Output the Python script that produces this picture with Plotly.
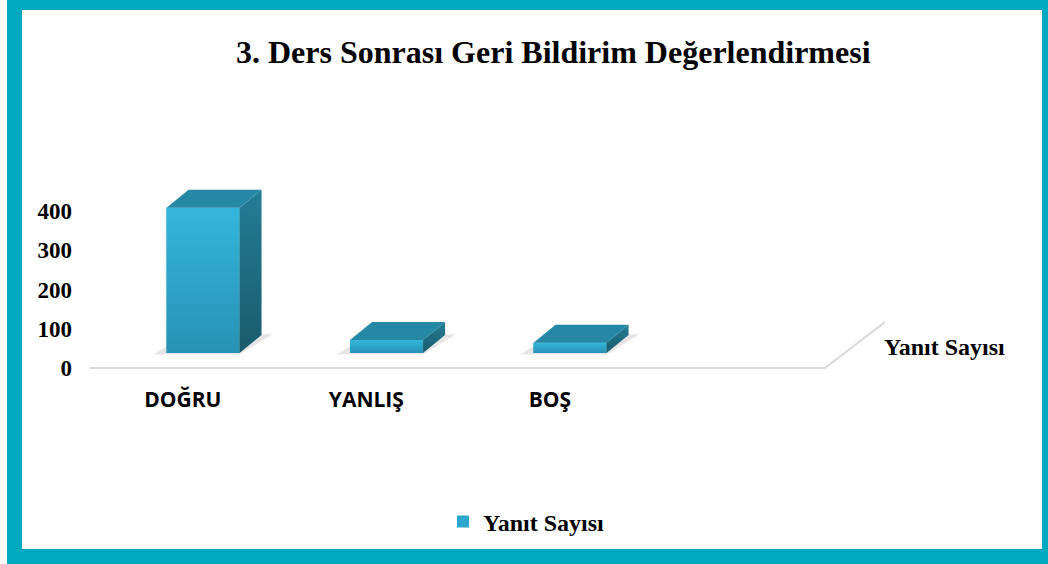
import plotly.graph_objects as go

# ---- data ----
categories = ["DOĞRU", "YANLIŞ", "BOŞ"]
values = [370, 33, 26]
series_name = "Yanıt Sayısı"
y_tickvals = [0, 100, 200, 300, 400]
title_text = "3. Ders Sonrası Geri Bildirim Değerlendirmesi"

# ---- geometry / style constants ----
W, H = 1048, 564
ML, MR, MT, MB = 90, 163, 150, 192
PW, PH = W - ML - MR, H - MT - MB
X0 = -0.616                  # x-axis range start (category units)
PX_PER_X = 183.5
PX_PER_Y = 0.3925
Y0 = -(H - MB - 368) / PX_PER_Y   # so that y=0 sits at pixel 368
XR = [X0, X0 + PW / PX_PER_X]
YR = [Y0, Y0 + PH / PX_PER_Y]

FLOOR = 15 / PX_PER_Y        # bars stand on the floor, mid-depth
DX = 22 / PX_PER_X           # 3-D depth offset
DY = 18 / PX_PER_Y
BAR_W = 73 / PX_PER_X
FLOOR_END = X0 + (825 - ML) / PX_PER_X
FLOOR_DX = 60 / PX_PER_X
FLOOR_DY = 46 / PX_PER_Y

TEAL = "#00A8C0"
SERIF = "Liberation Serif, Times New Roman, serif"
SANS = "Open Sans, Liberation Sans, sans-serif"


def px_x(p):
    return (p - ML) / PW


def px_y(p):
    return (H - MB - p) / PH


xs = list(range(len(categories)))
fig = go.Figure()

# soft floor shadows
for i, v in enumerate(values):
    hw = BAR_W / 2
    sx = [i - hw - 0.07, i + hw, i + hw + DX + 0.06, i - hw + DX - 0.02, i - hw - 0.07]
    sy = [FLOOR - 4, FLOOR - 4, FLOOR + DY + 2, FLOOR + DY + 2, FLOOR - 4]
    fig.add_trace(go.Scatter(x=sx, y=sy, fill="toself", mode="lines",
                             line=dict(width=0), fillcolor="rgba(0,0,0,0.10)",
                             showlegend=False, hoverinfo="skip"))

# front faces
fig.add_trace(go.Bar(
    x=xs, y=values, base=[FLOOR] * len(values), width=BAR_W,
    name=series_name,
    marker=dict(color="#2DA6CB", line=dict(width=0)),
    showlegend=True,
))

for i, v in enumerate(values):
    hw = BAR_W / 2
    top = FLOOR + v
    # front gradient overlay
    fig.add_trace(go.Scatter(
        x=[i - hw, i + hw, i + hw, i - hw, i - hw],
        y=[FLOOR, FLOOR, top, top, FLOOR],
        fill="toself", mode="lines", line=dict(width=0),
        fillgradient=dict(type="vertical",
                          colorscale=[[0, "#2792B3"], [1, "#34B6DC"]]),
        showlegend=False, hoverinfo="skip"))
    # side face
    fig.add_trace(go.Scatter(
        x=[i + hw, i + hw + DX, i + hw + DX, i + hw, i + hw],
        y=[FLOOR, FLOOR + DY, top + DY, top, FLOOR],
        fill="toself", mode="lines", line=dict(width=0),
        fillgradient=dict(type="vertical",
                          colorscale=[[0, "#1A5B6C"], [1, "#237D96"]]),
        showlegend=False, hoverinfo="skip"))
    # top face
    fig.add_trace(go.Scatter(
        x=[i - hw, i + hw, i + hw + DX, i - hw + DX, i - hw],
        y=[top, top, top + DY, top + DY, top],
        fill="toself", mode="lines", line=dict(width=0),
        fillcolor="#2688A4",
        showlegend=False, hoverinfo="skip"))

# floor edge lines
fig.add_trace(go.Scatter(
    x=[XR[0], FLOOR_END, FLOOR_END + FLOOR_DX],
    y=[0, 0, FLOOR_DY],
    mode="lines", line=dict(color="#D9D9D9", width=2),
    showlegend=False, hoverinfo="skip", cliponaxis=False))

shapes = [
    dict(type="rect", xref="paper", yref="paper", layer="below",
         x0=px_x(7), x1=px_x(W + 5), y0=px_y(H + 5), y1=px_y(-5),
         fillcolor=TEAL, line=dict(width=0)),
    dict(type="rect", xref="paper", yref="paper", layer="below",
         x0=px_x(22), x1=px_x(1042), y0=px_y(549), y1=px_y(10),
         fillcolor="white", line=dict(width=0)),
]

annotations = [
    dict(text=title_text, xref="paper", yref="paper",
         x=px_x(553), y=px_y(52), xanchor="center", yanchor="middle",
         showarrow=False,
         font=dict(family=SERIF, size=32, color="black", weight="bold")),
    dict(text=series_name, xref="paper", yref="paper",
         x=px_x(882), y=px_y(347), xanchor="left", yanchor="middle",
         showarrow=False,
         font=dict(family=SERIF, size=24, color="black", weight="bold")),
]

fig.update_layout(
    width=W, height=H,
    margin=dict(l=ML, r=MR, t=MT, b=MB, pad=0),
    paper_bgcolor="white", plot_bgcolor="rgba(0,0,0,0)",
    shapes=shapes, annotations=annotations,
    barmode="overlay",
    xaxis=dict(range=XR, showgrid=False, zeroline=False, showline=False,
               tickvals=[i - 0.11 for i in xs], ticktext=categories,
               ticks="", ticklabelstandoff=13,
               tickfont=dict(family=SANS, size=21, color="black", weight="bold")),
    yaxis=dict(range=YR, showgrid=False, zeroline=False, showline=False,
               tickvals=y_tickvals, ticks="", ticklabelstandoff=17,
               tickfont=dict(family=SERIF, size=23, color="black", weight="bold")),
    legend=dict(orientation="h", x=px_x(443), y=px_y(522),
                xanchor="left", yanchor="middle",
                font=dict(family=SERIF, size=24, color="black", weight="bold"),
                itemwidth=30, bgcolor="rgba(0,0,0,0)"),
    showlegend=True,
)

fig.write_html("out.html",
               config={"displayModeBar": False},
               post_script="document.body.style.margin='0';")
